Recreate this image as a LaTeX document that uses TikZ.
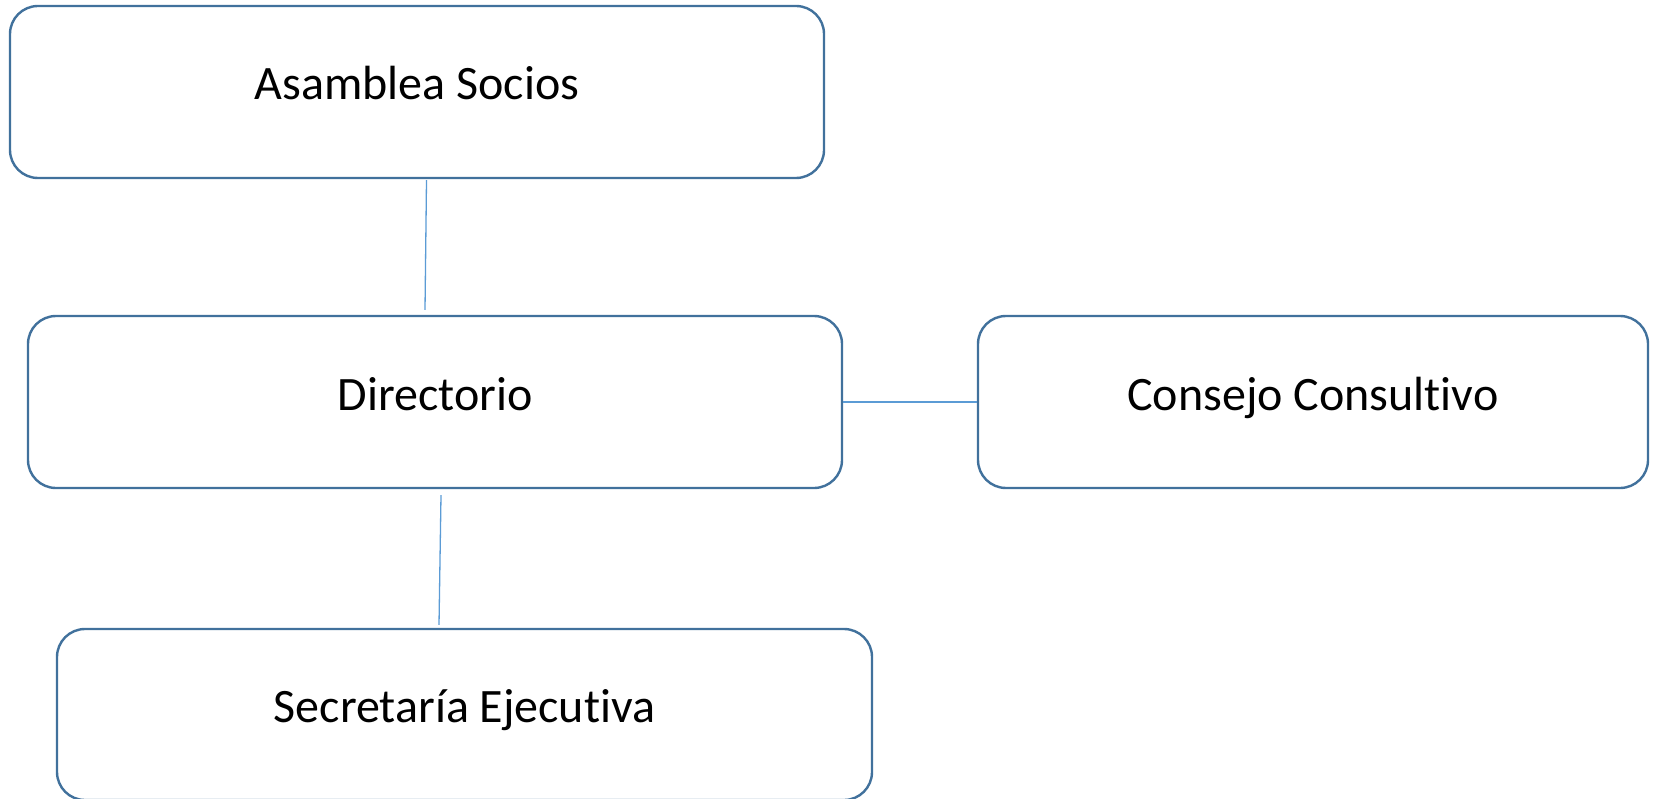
\documentclass[tikz,border=0pt]{standalone}
\usepackage{fontspec}
\setmainfont[Ligatures={NoCommon}]{Carlito}
\usetikzlibrary{calc}
\definecolor{boxline}{RGB}{65,113,156}
\definecolor{connline}{RGB}{91,155,213}
\begin{document}
\begin{tikzpicture}[x=1pt,y=1pt,
  orgbox/.style={draw=boxline, line width=2.4pt, rounded corners=28pt, fill=white,
    minimum height=172pt, inner sep=0pt, text height=22pt, text depth=6pt,
    font=\fontsize{48}{56}\selectfont, align=center},
  conn/.style={draw=connline, line width=1.3pt}]
\useasboundingbox (0,0) rectangle (1656,-799);
\node[orgbox, minimum width=814pt] (asamblea) at (417,-92) {Asamblea Socios};
\node[orgbox, minimum width=814pt] (directorio) at (435,-402) {Directorio};
\node[orgbox, minimum width=670pt] (consejo) at (1313,-402) {Consejo Consultivo};
\node[orgbox, minimum width=815pt, minimum height=171pt] (secretaria) at (464.5,-714.5) {Secretaría Ejecutiva};
\draw[conn] ($(asamblea.south)+(9.5,-1)$) -- ($(directorio.north)+(-10,5)$);
\draw[conn] ($(directorio.south)+(6,-6)$) -- ($(secretaria.north)+(-25.5,3)$);
\draw[conn] (directorio.east) -- (consejo.west);
\end{tikzpicture}
\end{document}
